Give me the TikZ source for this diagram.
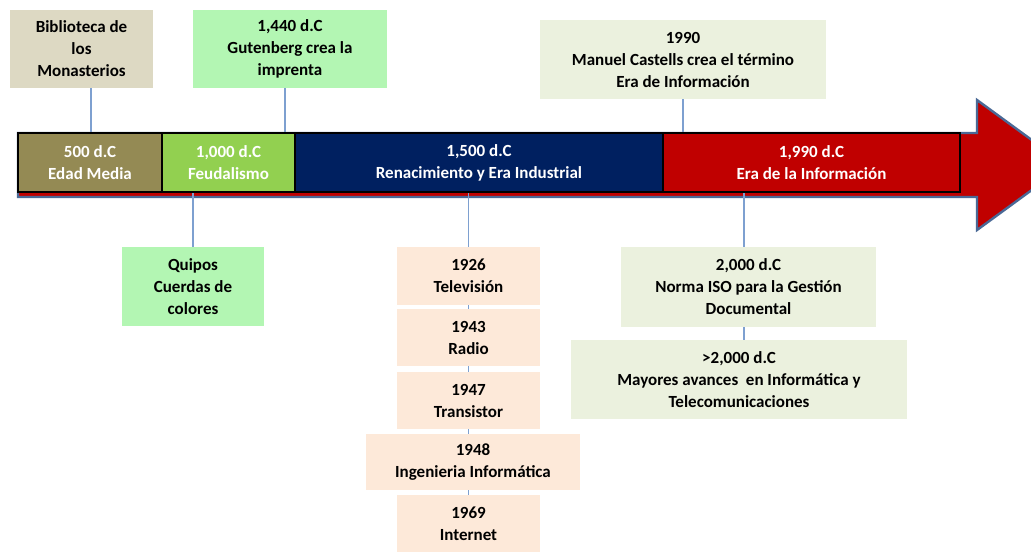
\documentclass[tikz,border=0pt]{standalone}
\usepackage{fontspec}
\setmainfont{Carlito}
\usetikzlibrary{positioning}

\definecolor{oliva}{HTML}{948A54}
\definecolor{verde}{HTML}{92D050}
\definecolor{marino}{HTML}{002060}
\definecolor{rojo}{HTML}{C00000}
\definecolor{bordeflecha}{HTML}{4A6996}
\definecolor{arena}{HTML}{DDD9C3}
\definecolor{menta}{HTML}{B3F6B3}
\definecolor{salvia}{HTML}{EBF1DE}
\definecolor{durazno}{HTML}{FDE9D9}
\definecolor{enlace}{HTML}{7EA0D0}

\begin{document}
\begin{tikzpicture}[
					x = 0.5pt, y = -0.5pt,
					every node/.style = {font=\bfseries\fontsize{8.5}{11}\selectfont, align=center, inner sep=0pt},
					size/.style 2 args = {minimum width=#1*0.5pt, minimum height=#2*0.5pt},
					caja/.style = {fill=#1},
					era/.style = {fill=#1, draw=black, line width=0.6pt, text=white},
					link/.style = {draw=enlace, line width=0.7pt}
				]

					\useasboundingbox (0,0) rectangle (1031,554);
					\clip (0,0) rectangle (1031,554);

					\draw[fill=rojo, draw=bordeflecha, line width=1.2pt] (18,133) -- (977,133) -- (977,100) -- (1066,165) -- (977,230) -- (977,197) -- (18,197) -- cycle;

					\node[era=oliva, size={144}{59}] (edad) at (90,162.5) {500 d.C\\Edad Media};
					\node[era=verde, size={133}{59}] (feudal) at (228.5,162.5) {1,000 d.C\\Feudalismo};
					\node[era=marino, size={368}{59}] (renac) at (479,162.5) {1,500 d.C\\Renacimiento y Era Industrial};
					\node[era=rojo, size={297}{59}] (info) at (811.5,162.5) {1,990 d.C\\Era de la Información};

					\node[caja=arena, size={143}{78}] (biblio) at (81.5,49) {Biblioteca de\\los\\Monasterios};
					\node[caja=menta, size={194}{78}] (guten) at (290,49) {1,440 d.C\\Gutenberg crea la\\imprenta};
					\node[caja=salvia, size={286}{79}] (castells) at (683,59.5) {1990\\Manuel Castells crea el término\\Era de Información};

					\node[caja=menta, size={142}{79}] (quipos) at (193,286.5) {Quipos\\Cuerdas de\\colores};

					\node[caja=durazno, size={143}{58}] (tv) at (468.5,276) {1926\\Televisión};
					\node[caja=durazno, size={143}{57}] (radio) at (468.5,337.5) {1943\\Radio};
					\node[caja=durazno, size={143}{57}] (trans) at (468.5,400.5) {1947\\Transistor};
					\node[caja=durazno, size={214}{56}] (ing) at (473,462) {1948\\Ingenieria Informática};
					\node[caja=durazno, size={143}{57}] (internet) at (468.5,523.5) {1969\\Internet};

					\node[caja=salvia, size={255}{80}] (iso) at (748.5,287) {2,000 d.C\\Norma ISO para la Gestión\\Documental};
					\node[caja=salvia, size={336}{79}] (avances) at (739,379.5) {>2,000 d.C\\Mayores avances\ \ en Informática y\\Telecomunicaciones};

					\draw[link] ([xshift=4.75pt]biblio.south) -- ([xshift=4.75pt]biblio.south |- edad.north);
					\draw[link] ([xshift=-2.5pt]guten.south) -- ([xshift=-2.5pt]guten.south |- feudal.north);
					\draw[link] (castells.south) -- (castells.south |- info.north);

					\draw[link] (quipos.north) -- (quipos.north |- feudal.south);
					\draw[link] (tv.north) -- (tv.north |- renac.south);
					\draw[link] ([xshift=-2.25pt]iso.north) -- ([xshift=-2.25pt]iso.north |- info.south);

					\draw[link] (tv) -- (radio);
					\draw[link] (radio) -- (trans);
					\draw[link] (trans.south) -- (trans.south |- ing.north);
					\draw[link] (ing.south -| internet.north) -- (internet.north);
					\draw[link] ([xshift=-2.25pt]iso.south) -- ([xshift=-2.25pt]iso.south |- avances.north);

				\end{tikzpicture}
\end{document}
